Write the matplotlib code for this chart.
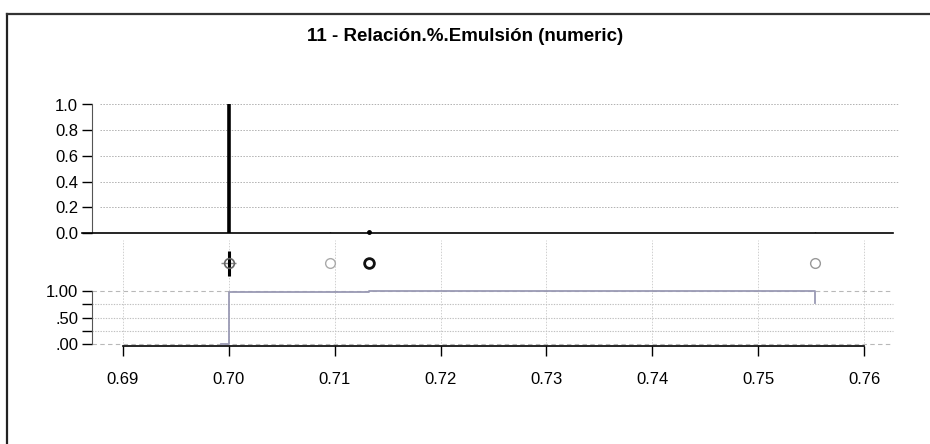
import numpy as np
import matplotlib.pyplot as plt
from matplotlib.lines import Line2D

plt.rcParams['font.family'] = ['Liberation Sans', 'DejaVu Sans']

# data
title = "11 - Relación.%.Emulsión (numeric)"
spike_x = [0.7000, 0.7096, 0.7132, 0.7554]
spike_h = [1.00, 0.006, 0.012, 0.006]
point_x = [0.7000, 0.7096, 0.7132, 0.7554]
point_col = ['#666666', '#aaaaaa', '#111111', '#999999']
point_lw = [1.2, 1.0, 2.0, 1.0]
ecdf_x = [0.6993, 0.7000, 0.7132, 0.7554, 0.7554]
ecdf_y = [0.000, 0.985, 1.000, 1.000, 0.770]
xticks = [0.69, 0.70, 0.71, 0.72, 0.73, 0.74, 0.75, 0.76]
top_yticks = [0.0, 0.2, 0.4, 0.6, 0.8, 1.0]
ecdf_yticks = [0.0, 0.25, 0.5, 0.75, 1.0]
ecdf_ylabels = ['.00', '', '.50', '', '1.00']

W, H = 930, 444
ppu = 10586.0  # pixels per x unit


def px2x(p):
    return 0.69 + (p - 123) / ppu


def rect(l, t, r, b):
    return [l / W, 1 - b / H, (r - l) / W, (b - t) / H]


fig = plt.figure(figsize=(9.3, 4.44), dpi=100)

# outer frame
fig.add_artist(Line2D([7 / W, 7 / W], [0, 1 - 14 / H], color='#222222', lw=1.6))
fig.add_artist(Line2D([7 / W, 1], [1 - 14 / H, 1 - 14 / H], color='#333333', lw=1.6))

fig.text(465 / W, 1 - 36 / H, title, ha='center', va='center',
         fontsize=13.5, fontweight='bold')

xl, xr = px2x(82), px2x(905)

# top panel: proportions
ax1 = fig.add_axes(rect(82, 100, 905, 233))
ax1.set_xlim(xl, xr)
ax1.set_ylim(0, 1 + 4.5 / 128.5)
ax1.hlines(top_yticks[1:], px2x(100), px2x(898), colors='#b0b0b0',
           linestyles=(0, (1.5, 1.5)), lw=0.7)
ax1.vlines(spike_x, 0, spike_h, colors='black', lw=[2.6, 1, 1.6, 1])
ax1.plot(spike_x[2], 0.005, 'o', color='black', ms=2.5, clip_on=False)
for s in ['top', 'right']:
    ax1.spines[s].set_visible(False)
ax1.spines['left'].set_position(('data', px2x(92)))
ax1.spines['left'].set_bounds(0, 1)
ax1.spines['left'].set_color('#555555')
ax1.spines['bottom'].set_bounds(px2x(82), px2x(893))
ax1.spines['bottom'].set_linewidth(1.2)
ax1.set_yticks(top_yticks)
ax1.set_yticklabels(['%.1f' % v for v in top_yticks])
ax1.tick_params(axis='y', length=7, width=1, labelsize=12, pad=3, color='black')
ax1.tick_params(axis='x', bottom=False, labelbottom=False)
ax1.patch.set_alpha(0)

# bottom panel: points strip + ECDF
ax2 = fig.add_axes(rect(82, 240, 905, 346))
ax2.set_xlim(xl, xr)
ylo = -1.7 / 53.6
yhi = 1 + 50.7 / 53.6
ax2.set_ylim(ylo, yhi)
ax2.vlines(xticks, ylo, yhi, colors='#d0d0d0', linestyles=(0, (1.5, 1.5)), lw=0.7)
ax2.hlines([0.25, 0.5, 0.75], px2x(92), px2x(893), colors='#c0c0c0',
           linestyles=(0, (1.2, 1.2)), lw=0.8)
ax2.hlines([0, 1], px2x(92), px2x(893), colors='#b8b8b8',
           linestyles=(0, (4, 3)), lw=0.8)
ax2.plot(ecdf_x, ecdf_y, drawstyle='steps-post', color='#9a9ab4', lw=1.3)

ypt = 1 + 27.7 / 53.6
ax2.hlines(ypt, point_x[0] - 0.0007, point_x[0] + 0.0007, colors='#888888', lw=1.0)
ax2.vlines(point_x[0], ypt - 0.25, ypt + 0.22, colors='black', lw=2.2)
for x, c, lw in zip(point_x, point_col, point_lw):
    ax2.plot(x, ypt, 'o', mfc='none', mec=c, mew=lw, ms=7)

for s in ['top', 'right']:
    ax2.spines[s].set_visible(False)
ax2.spines['left'].set_position(('data', px2x(92)))
ax2.spines['left'].set_bounds(0, 1)
ax2.spines['left'].set_color('#555555')
ax2.spines['bottom'].set_bounds(0.69, 0.76)
ax2.spines['bottom'].set_linewidth(1.2)
ax2.set_yticks(ecdf_yticks)
ax2.set_yticklabels(ecdf_ylabels)
ax2.set_xticks(xticks)
ax2.set_xticklabels(['%.2f' % v for v in xticks])
ax2.tick_params(axis='y', length=7, width=1, labelsize=12, pad=3)
ax2.tick_params(axis='x', length=7, width=1, labelsize=12, pad=12)
ax2.patch.set_alpha(0)

fig.savefig('out.png', dpi=100)
